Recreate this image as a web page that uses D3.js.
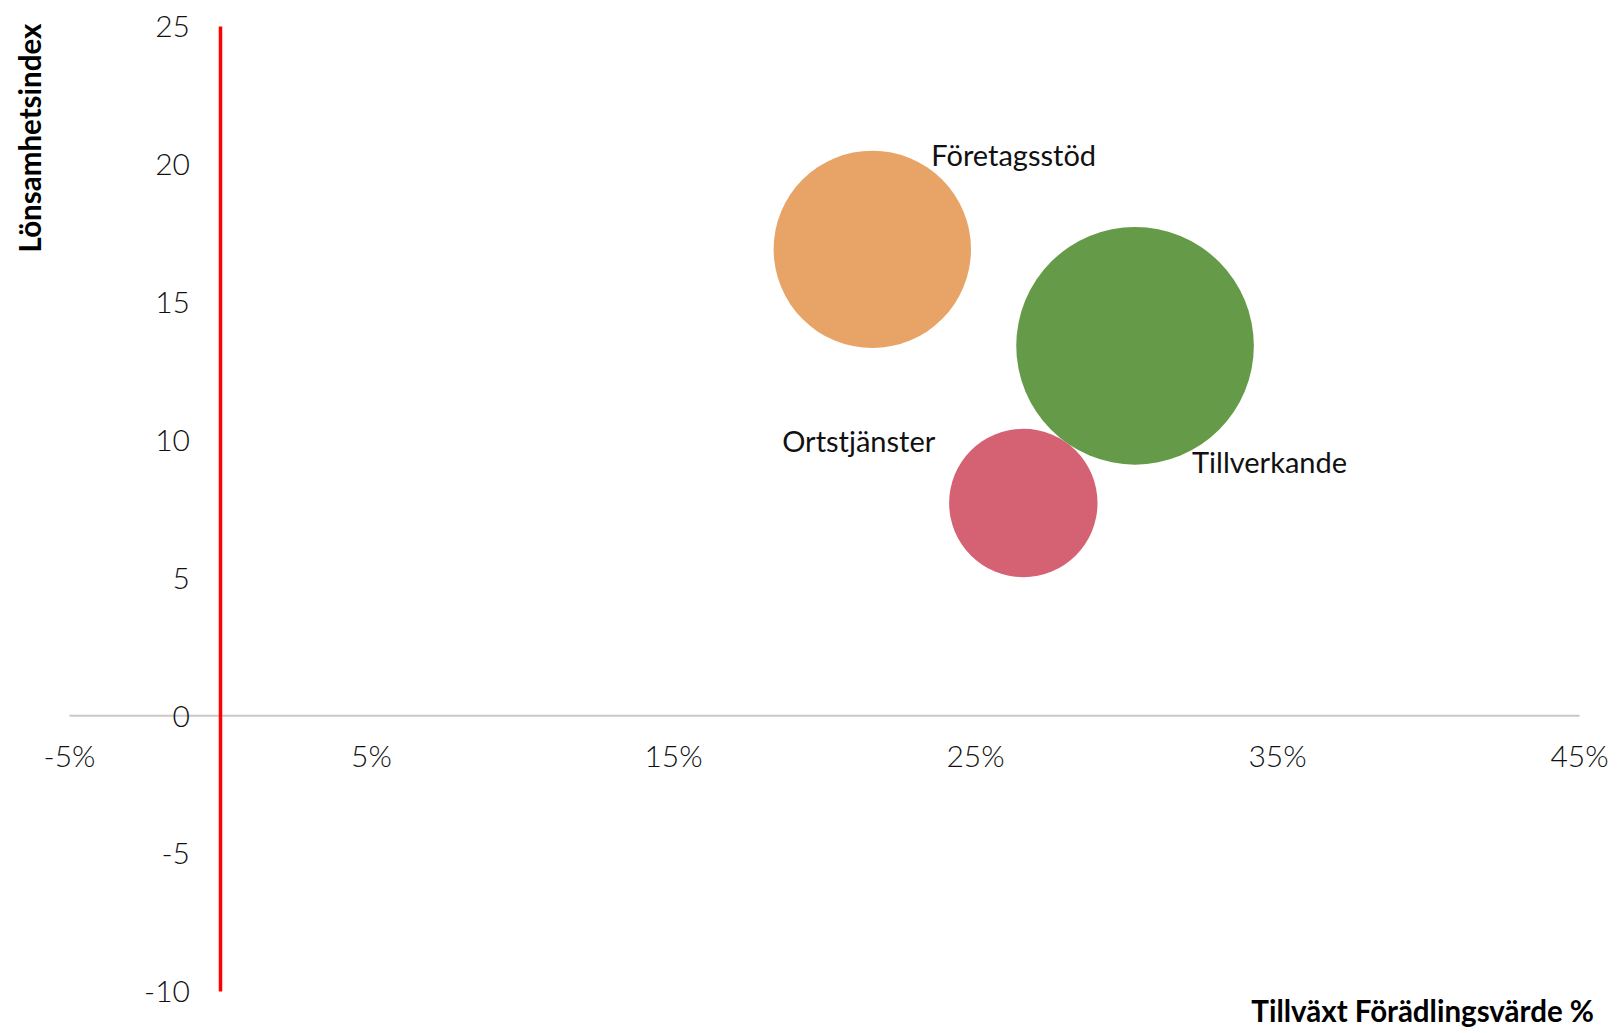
<!DOCTYPE html>
<html lang="sv">
<head>
<meta charset="UTF-8">
<title>Bubbeldiagram</title>
<style>
  body { margin: 0; background: #fff; }
  .tick text { font-family: Lato, "Open Sans", sans-serif; font-weight: 300; font-size: 30px; fill: #111; }
  .lbl { font-family: Lato, "Open Sans", sans-serif; font-size: 29px; fill: #111; }
  .title { font-family: Lato, "Open Sans", sans-serif; font-weight: 700; font-size: 29.5px; fill: #000; }
</style>
<script src="https://d3js.org/d3.v7.min.js"></script>
</head>
<body>
<script>
// data
var branscher = ["Företagsstöd", "Tillverkande", "Ortstjänster"];
var tillvaxt = [21.6, 30.3, 26.6];      // x, %
var lonsamhet = [16.9, 13.4, 7.7];      // y
var storlek = [69, 100, 39];            // bubble size (relative)
var colors = ["#E8A466", "#659B48", "#D46273"];
var xTicks = [-5, 5, 15, 25, 35, 45];
var yTicks = [-10, -5, 0, 5, 10, 15, 20, 25];

// label offsets relative to bubble centre (layout only)
var labelPos = [
  { dx: 59, dy: -83, anchor: "start" },
  { dx: 57, dy: 127, anchor: "start" },
  { dx: -88, dy: -51, anchor: "end" }
];

const W = 1618, H = 1033;
const svg = d3.select("body").append("svg")
  .attr("width", W).attr("height", H);

var x = d3.scaleLinear().domain([-5, 45]).range([69, 1579]);
var y = d3.scaleLinear().domain([-10, 25]).range([991, 26]);
var r = d3.scaleSqrt().domain([0, d3.max(storlek)]).range([0, 118.8]);

// x axis (horizontal grey line at y=0)
var xAxis = d3.axisBottom(x).tickValues(xTicks).tickSize(0).tickPadding(30)
  .tickFormat(d => d + "%");
var gx = svg.append("g").attr("transform", "translate(0," + y(0) + ")").call(xAxis);
gx.select(".domain").attr("stroke", "#c8c8c8").attr("stroke-width", 2);

// y axis (red line at x=0)
var yAxis = d3.axisLeft(y).tickValues(yTicks).tickSize(0).tickPadding(30)
  .tickFormat(d => String(d));
var gy = svg.append("g").attr("transform", "translate(" + x(0) + ",0)").call(yAxis);
gy.select(".domain").attr("stroke", "#ff0000").attr("stroke-width", 3.5);
gy.selectAll(".tick text").attr("dy", "0.36em");

// bubbles
var data = branscher.map((d, i) => ({ name: d, x: tillvaxt[i], y: lonsamhet[i], s: storlek[i], c: colors[i], p: labelPos[i] }));

svg.selectAll("circle.bubble")
  .data(data)
  .enter().append("circle")
  .attr("class", "bubble")
  .attr("cx", d => x(d.x))
  .attr("cy", d => y(d.y))
  .attr("r", d => r(d.s))
  .attr("fill", d => d.c);

svg.selectAll("text.lbl")
  .data(data)
  .enter().append("text")
  .attr("class", "lbl")
  .attr("x", d => x(d.x) + d.p.dx)
  .attr("y", d => y(d.y) + d.p.dy)
  .attr("text-anchor", d => d.p.anchor)
  .text(d => d.name);

// axis titles
svg.append("text").attr("class", "title")
  .attr("x", 1594).attr("y", 1022)
  .attr("text-anchor", "end")
  .text("Tillväxt Förädlingsvärde %");

svg.append("text").attr("class", "title")
  .attr("transform", "translate(41,138) rotate(-90)")
  .attr("text-anchor", "middle")
  .text("Lönsamhetsindex");
</script>
</body>
</html>
